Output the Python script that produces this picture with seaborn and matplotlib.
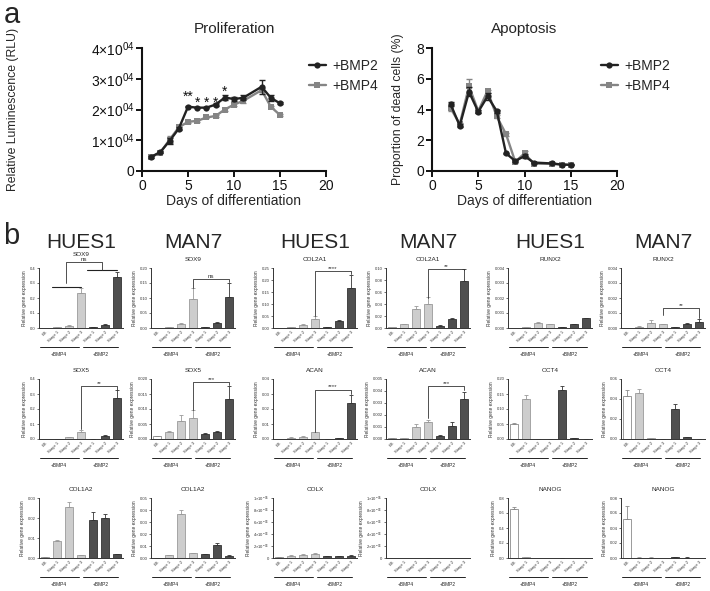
"""Proliferation / apoptosis time courses and qPCR marker panels."""
import matplotlib
matplotlib.use("Agg")
import matplotlib.pyplot as plt
import matplotlib.transforms as mtransforms
import numpy as np
import pandas as pd
import seaborn as sns

# ---------------- panel a data ----------------
prolif_days = [1, 2, 3, 4, 5, 6, 7, 8, 9, 10, 11, 13, 14, 15]
prolif_bmp2 = [4600, 6200, 9800, 13800, 20900, 20600, 20600, 21600, 23900, 23400, 23800, 27400, 23800, 22000]
prolif_bmp2_err = [300, 300, 1000, 500, 200, 200, 200, 400, 900, 600, 800, 2200, 900, 300]
prolif_bmp4 = [4500, 6000, 10200, 14200, 16000, 16300, 17400, 17900, 20000, 21600, 22800, 26300, 20900, 18200]
prolif_bmp4_err = [300, 300, 1200, 600, 300, 300, 300, 300, 400, 500, 600, 600, 400, 400]
prolif_star_days = [5, 6, 7, 8, 9]
prolif_star_text = ["**", "*", "*", "*", "*"]
prolif_star_y = [24200, 22300, 22300, 22300, 25800]

apop_days = [2, 3, 4, 5, 6, 7, 8, 9, 10, 11, 13, 14, 15]
apop_bmp2 = [4.35, 2.95, 5.15, 3.85, 4.85, 3.9, 1.15, 0.65, 0.97, 0.55, 0.49, 0.42, 0.40]
apop_bmp2_err = [0.15, 0.1, 0.3, 0.1, 0.2, 0.1, 0.05, 0.05, 0.15, 0.05, 0.03, 0.03, 0.03]
apop_bmp4 = [4.1, 3.05, 5.5, 3.9, 5.2, 3.55, 2.4, 0.6, 1.15, 0.48, 0.47, 0.42, 0.40]
apop_bmp4_err = [0.2, 0.1, 0.5, 0.1, 0.1, 0.1, 0.1, 0.05, 0.15, 0.05, 0.03, 0.03, 0.03]

# ---------------- panel b data ----------------
conditions = ["ES", "BMP4 S1", "BMP4 S2", "BMP4 S3", "BMP2 S1", "BMP2 S2", "BMP2 S3"]
stage_labels = ["ES", "Stage 1", "Stage 2", "Stage 3", "Stage 1", "Stage 2", "Stage 3"]
group_names = ["+BMP4", "+BMP2"]
cell_lines = ["HUES1", "MAN7", "HUES1", "MAN7", "HUES1", "MAN7"]

sox9_hues1 = [0.0, 0.004, 0.015, 0.235, 0.006, 0.022, 0.34]
sox9_hues1_err = [0.0, 0.001, 0.003, 0.03, 0.002, 0.004, 0.035]
sox9_man7 = [0.0, 0.002, 0.015, 0.097, 0.002, 0.016, 0.104]
sox9_man7_err = [0.0, 0.001, 0.002, 0.035, 0.001, 0.003, 0.045]
col2a1_hues1 = [0.0, 0.005, 0.012, 0.038, 0.003, 0.028, 0.168]
col2a1_hues1_err = [0.0, 0.001, 0.003, 0.01, 0.001, 0.004, 0.053]
col2a1_man7 = [0.001, 0.006, 0.032, 0.040, 0.004, 0.015, 0.079]
col2a1_man7_err = [0.0, 0.001, 0.005, 0.011, 0.001, 0.002, 0.019]
runx2_hues1 = [0.00001, 0.00008, 0.00035, 0.00027, 0.00004, 0.00025, 0.00066]
runx2_hues1_err = [0.0, 0.00001, 0.00004, 0.00002, 0.00001, 0.00003, 0.00002]
runx2_man7 = [0.00002, 0.0001, 0.00035, 0.00025, 0.00005, 0.00025, 0.00043]
runx2_man7_err = [0.0, 0.00005, 0.0002, 0.00005, 0.00001, 0.0001, 0.0002]

sox5_hues1 = [0.0, 0.001, 0.013, 0.048, 0.001, 0.022, 0.275]
sox5_hues1_err = [0.0, 0.0005, 0.003, 0.015, 0.0005, 0.004, 0.05]
sox5_man7 = [0.001, 0.0024, 0.0061, 0.0069, 0.0018, 0.0024, 0.0135]
sox5_man7_err = [0.0001, 0.0002, 0.0018, 0.0027, 0.0003, 0.0003, 0.0043]
acan_hues1 = [0.0, 0.001, 0.0015, 0.0048, 0.0002, 0.0007, 0.024]
acan_hues1_err = [0.0, 0.0003, 0.0008, 0.0002, 0.0001, 0.0003, 0.0055]
acan_man7 = [0.00005, 0.0001, 0.001, 0.0014, 0.00025, 0.0011, 0.0033]
acan_man7_err = [0.00001, 0.00002, 0.00025, 0.00015, 0.00007, 0.0003, 0.00065]
oct4_hues1 = [0.050, 0.133, 0.0005, 0.0003, 0.164, 0.002, 0.0003]
oct4_hues1_err = [0.005, 0.013, 0.0002, 0.0001, 0.013, 0.001, 0.0001]
oct4_man7 = [0.043, 0.046, 0.001, 0.0002, 0.030, 0.002, 0.0003]
oct4_man7_err = [0.0065, 0.0045, 0.0003, 0.0001, 0.005, 0.0005, 0.0001]

col1a2_hues1 = [0.0005, 0.0085, 0.0255, 0.0015, 0.0188, 0.0202, 0.0018]
col1a2_hues1_err = [0.0001, 0.0005, 0.0025, 0.0002, 0.004, 0.0018, 0.0003]
col1a2_man7 = [0.0002, 0.0022, 0.0368, 0.004, 0.0033, 0.0105, 0.0018]
col1a2_man7_err = [0.0001, 0.0003, 0.0035, 0.0005, 0.0004, 0.002, 0.0003]
colx_hues1 = [1.5e-7, 4e-7, 5e-7, 7.5e-7, 3.5e-7, 3.5e-7, 4e-7]
colx_hues1_err = [2e-8, 5e-8, 1e-7, 5e-8, 3e-8, 5e-8, 5e-8]
colx_man7 = [0.0, 0.0, 0.0, 4e-8, 0.0, 0.0, 0.0]
colx_man7_err = [0.0, 0.0, 0.0, 2e-8, 0.0, 0.0, 0.0]
nanog_hues1 = [0.65, 0.008, 0.0, 0.0, 0.002, 0.0, 0.0]
nanog_hues1_err = [0.03, 0.002, 0.0, 0.0, 0.001, 0.0, 0.0]
nanog_man7 = [0.052, 0.0005, 0.0005, 0.0, 0.0008, 0.0005, 0.0]
nanog_man7_err = [0.018, 0.0002, 0.0002, 0.0, 0.0003, 0.0002, 0.0]

# styling
LINE_COLORS = {"+BMP2": "#222222", "+BMP4": "#858585"}
BAR_FILL = ["#ffffff", "#cdcdcd", "#cdcdcd", "#cdcdcd", "#4f4f4f", "#4f4f4f", "#4f4f4f"]
BAR_EDGE = ["#8a8a8a", "#9a9a9a", "#9a9a9a", "#9a9a9a", "#333333", "#333333", "#333333"]

# (row, col, title, values, errors, ymax, step, brackets, extra lines)
# bracket = (x_left, x_right, y_left_end, y_top, y_right_end, text)
PANELS = [
    (0, 0, "SOX9", sox9_hues1, sox9_hues1_err, 0.4, 0.1,
     [(1.75, 4.75, 0.30, 0.44, 0.39, "ns")], [(0.6, 3.0, 0.275), (3.5, 6.0, 0.385)]),
    (0, 1, "SOX9", sox9_man7, sox9_man7_err, 0.20, 0.05, [(3, 6, 0.135, 0.162, 0.155, "ns")], []),
    (0, 2, "COL2A1", col2a1_hues1, col2a1_hues1_err, 0.25, 0.05, [(3, 6, 0.05, 0.236, 0.225, "****")], []),
    (0, 3, "COL2A1", col2a1_man7, col2a1_man7_err, 0.10, 0.02, [(3, 6, 0.05, 0.098, 0.096, "**")], []),
    (0, 4, "RUNX2", runx2_hues1, runx2_hues1_err, 0.004, 0.001, [], []),
    (0, 5, "RUNX2", runx2_man7, runx2_man7_err, 0.004, 0.001, [(3, 6, 0.0009, 0.00134, 0.00067, "**")], []),
    (1, 0, "SOX5", sox5_hues1, sox5_hues1_err, 0.4, 0.1, [(3, 6, 0.067, 0.351, 0.33, "**")], []),
    (1, 1, "SOX5", sox5_man7, sox5_man7_err, 0.020, 0.005, [(3, 6, 0.0098, 0.0189, 0.018, "***")], []),
    (1, 2, "ACAN", acan_hues1, acan_hues1_err, 0.04, 0.01, [(3, 6, 0.005, 0.033, 0.030, "****")], []),
    (1, 3, "ACAN", acan_man7, acan_man7_err, 0.005, 0.001, [(3, 6, 0.00175, 0.0044, 0.0041, "***")], []),
    (1, 4, "OCT4", oct4_hues1, oct4_hues1_err, 0.20, 0.05, [], []),
    (1, 5, "OCT4", oct4_man7, oct4_man7_err, 0.06, 0.02, [], []),
    (2, 0, "COL1A2", col1a2_hues1, col1a2_hues1_err, 0.03, 0.01, [], []),
    (2, 1, "COL1A2", col1a2_man7, col1a2_man7_err, 0.05, 0.01, [], []),
    (2, 2, "COLX", colx_hues1, colx_hues1_err, 1e-5, 2e-6, [], []),
    (2, 3, "COLX", colx_man7, colx_man7_err, 1e-5, 2e-6, [], []),
    (2, 4, "NANOG", nanog_hues1, nanog_hues1_err, 0.8, 0.2, [], []),
    (2, 5, "NANOG", nanog_man7, nanog_man7_err, 0.08, 0.02, [], []),
]

sns.set_theme(style="ticks")
plt.rcParams["font.family"] = ["Liberation Sans", "DejaVu Sans"]
plt.rcParams["mathtext.default"] = "regular"

W, H = 710, 591
fig = plt.figure(figsize=(W / 100, H / 100), dpi=100)
fig.patch.set_facecolor("white")


def px_axes(left, top, width, height):
    return fig.add_axes([left / W, 1 - (top + height) / H, width / W, height / H])


def sci_label(v, _pos=None):
    if v == 0:
        return "0"
    exp = int(np.floor(np.log10(abs(v)) + 1e-9))
    mant = v / 10 ** exp
    sign = "-" if exp < 0 else ""
    return f"{mant:.0f}×10$^{{{sign}{abs(exp):02d}}}$"


def time_course(ax, days, series, title, ylabel, ymax, ystep, legend_xy, ylab_x):
    df = pd.concat([
        pd.DataFrame({"day": days, "value": vals, "group": name})
        for name, (vals, _) in series.items()
    ])
    sns.lineplot(data=df, x="day", y="value", hue="group", style="group",
                 markers={"+BMP2": "o", "+BMP4": "s"}, dashes=False,
                 palette=LINE_COLORS, linewidth=1.7, markersize=4.5,
                 markeredgewidth=0, ax=ax)
    for i, (name, (vals, errs)) in enumerate(series.items()):
        ax.errorbar(days, vals, yerr=errs, fmt="none", ecolor=LINE_COLORS[name],
                    elinewidth=1.0, capsize=2.2, capthick=1.0, zorder=3 - i)
    ax.lines[0].set_zorder(4)

    ax.set_xlim(0, 20)
    ax.set_ylim(0, ymax)
    ax.set_xticks(np.arange(0, 21, 5))
    ax.set_yticks(np.arange(0, ymax + ystep / 2, ystep))
    ax.tick_params(direction="out", length=4, width=1.4, labelsize=10, pad=1.5, colors="#111111")
    for side in ("left", "bottom"):
        ax.spines[side].set_linewidth(1.5)
        ax.spines[side].set_color("#111111")
    sns.despine(ax=ax)
    ax.set_title(title, fontsize=11, pad=11)
    ax.set_xlabel("Days of differentiation", fontsize=10, labelpad=1)
    ax.set_ylabel(ylabel, fontsize=8.8)
    ax.yaxis.set_label_coords(ylab_x, 0.5)
    ax.legend(title=None, frameon=False, loc="upper left",
              bbox_to_anchor=(legend_xy[0] / W, 1 - legend_xy[1] / H),
              bbox_transform=fig.transFigure, fontsize=10, handlelength=1.2,
              handletextpad=0.45, borderpad=0, borderaxespad=0, labelspacing=0.45)


# ---------------- panel a ----------------
ax_p = px_axes(142, 48, 184, 123)
time_course(ax_p, prolif_days,
            {"+BMP2": (prolif_bmp2, prolif_bmp2_err), "+BMP4": (prolif_bmp4, prolif_bmp4_err)},
            "Proliferation", "Relative Luminescence (RLU)", 40000, 10000, (309, 59), -0.67)
ax_p.yaxis.set_major_formatter(plt.FuncFormatter(sci_label))
for d, txt, y in zip(prolif_star_days, prolif_star_text, prolif_star_y):
    ax_p.text(d, y, txt, ha="center", va="center", fontsize=10, color="#111111")

ax_a = px_axes(432, 48, 185, 123)
time_course(ax_a, apop_days,
            {"+BMP2": (apop_bmp2, apop_bmp2_err), "+BMP4": (apop_bmp4, apop_bmp4_err)},
            "Apoptosis", "Proportion of dead cells (%)", 8, 2, (601, 59), -0.15)

fig.text(4 / W, 1 - 1 / H, "a", fontsize=21, va="top", ha="left")
fig.text(3 / W, 1 - 222 / H, "b", fontsize=21, va="top", ha="left")

# ---------------- panel b ----------------
BAR_COLS = [39, 151, 273, 386, 508, 621]
BAR_ROWS = [268, 379, 498]
BAR_W, BAR_H = 84, 60
GROUP_SPANS = [(-0.45, 2.8), (3.15, 6.1)]

for col, name in zip(BAR_COLS, cell_lines):
    fig.text((col + BAR_W / 2) / W, 1 - 243 / H, name, fontsize=15, ha="center", va="center")

for row, col, title, vals, errs, ymax, step, brackets, extra in PANELS:
    ax = px_axes(BAR_COLS[col], BAR_ROWS[row], BAR_W, BAR_H)
    df = pd.DataFrame({"cond": conditions, "value": vals})
    sns.barplot(data=df, x="cond", y="value", hue="cond", order=conditions,
                hue_order=conditions, palette=dict(zip(conditions, BAR_FILL)),
                width=0.68, errorbar=None, legend=False, linewidth=0.6, ax=ax)
    bars = [p for p in ax.patches if p.get_width() > 0]
    for patch, ec in zip(bars, BAR_EDGE):
        patch.set_edgecolor(ec)
    for i, (v, e) in enumerate(zip(vals, errs)):
        if e > 0:
            ax.errorbar(i, v, yerr=[[0], [e]], fmt="none", ecolor=BAR_EDGE[i],
                        elinewidth=0.6, capsize=1.6, capthick=0.6)

    ax.set_xlim(-0.5, 6.5)
    ax.set_ylim(0, ymax)
    ax.set_yticks(np.arange(0, ymax + step / 2, step))
    if title == "COLX":
        ax.yaxis.set_major_formatter(plt.FuncFormatter(sci_label))
    else:
        dec = max(0, int(-np.floor(np.log10(step) + 1e-9)))
        ax.yaxis.set_major_formatter(plt.FuncFormatter(lambda v, p, d=dec: f"{v:.{d}f}"))
    ax.set_xticks(range(len(conditions)))
    ax.set_xticklabels(stage_labels, rotation=45, ha="right", rotation_mode="anchor")
    ax.tick_params(axis="y", length=1.5, width=0.5, pad=1, labelsize=3, colors="#333333")
    ax.tick_params(axis="x", length=0, pad=1.5, labelsize=3, colors="#333333")
    for side in ("left", "bottom"):
        ax.spines[side].set_linewidth(0.7)
        ax.spines[side].set_color("#333333")
    sns.despine(ax=ax)
    ax.set_xlabel("")
    ax.set_ylabel("Relative gene expression", fontsize=3.5, labelpad=2, color="#333333")
    # lift the title when a bracket label sits above the axes top
    high = any(b[3] > ymax * 1.05 for b in brackets)
    ax.set_title(title, fontsize=4.6, pad=9 if high else 5)

    trans = mtransforms.blended_transform_factory(ax.transData, ax.transAxes)
    for (x1, x2), gname in zip(GROUP_SPANS, group_names):
        ax.plot([x1, x2], [-0.32, -0.32], transform=trans, color="#222222",
                lw=0.7, clip_on=False)
        ax.text((x1 + x2) / 2, -0.45, gname, transform=trans, ha="center",
                va="center", fontsize=3.5, color="#222222")

    for x1, x2, y in extra:
        ax.plot([x1, x2], [y, y], color="#222222", lw=0.8, clip_on=False)
    for x1, x2, yl, yt, yr, txt in brackets:
        ax.plot([x1, x1, x2, x2], [yl, yt, yt, yr], color="#333333", lw=0.6, clip_on=False)
        ax.text((x1 + x2) / 2, yt, txt, ha="center", va="bottom", fontsize=4.5,
                color="#333333", clip_on=False)

fig.savefig("out.png", dpi=100, facecolor="white")
